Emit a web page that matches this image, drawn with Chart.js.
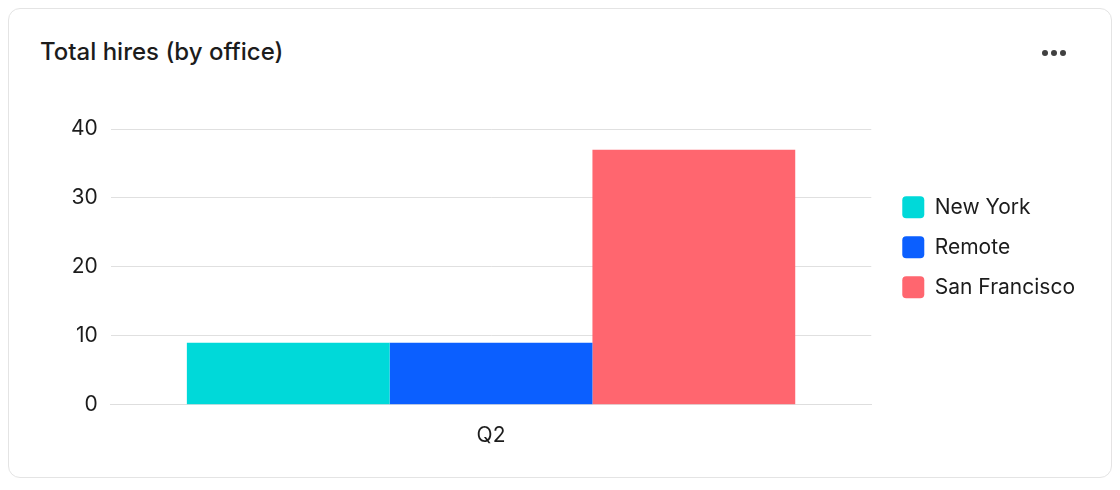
<!DOCTYPE html>
<html>
<head>
<meta charset="utf-8">
<script src="https://cdn.jsdelivr.net/npm/chart.js@4/dist/chart.umd.min.js"></script>
<style>
    html, body {
        margin: 0;
        padding: 0;
        background: #ffffff;
        font-family: Inter, 'Noto Sans', sans-serif;
    }
    .card {
        position: absolute;
        left: 8px;
        top: 8px;
        width: 1102px;
        height: 468px;
        border: 1px solid #e4e4e4;
        border-radius: 12px;
        background: #ffffff;
    }
    .title {
        position: absolute;
        left: 40px;
        top: 38px;
        font-size: 24px;
        font-weight: 500;
        color: #1c1c1c;
        line-height: 28px;
    }
    .menu {
        position: absolute;
        left: 1042px;
        top: 50px;
        display: flex;
        gap: 3px;
    }
    .menu span {
        width: 6px;
        height: 6px;
        border-radius: 50%;
        background: #404040;
    }
    .chart-box {
        position: absolute;
        left: 20px;
        top: 100px;
        width: 1080px;
        height: 370px;
    }
</style>
</head>
<body>
<div class="card"></div>
<div class="title">Total hires (by office)</div>
<div class="menu"><span></span><span></span><span></span></div>
<div class="chart-box"><canvas id="hiresChart"></canvas></div>

<script>
// chart data
const quarters = ['Q2'];
const offices = ['New York', 'Remote', 'San Francisco'];
const newYorkHires = [9];
const remoteHires = [9];
const sanFranciscoHires = [37];
const yTicks = [0, 10, 20, 30, 40];

const officeColors = {
    'New York': '#00d9d9',
    'Remote': '#0b5fff',
    'San Francisco': '#ff666f'
};

const seriesValues = [newYorkHires, remoteHires, sanFranciscoHires];

const datasets = offices.map((name, i) => ({
    label: name,
    data: seriesValues[i],
    backgroundColor: officeColors[name],
    borderWidth: 0,
    categoryPercentage: 0.8,
    barPercentage: 1.0
}));

const tickFont = { family: 'Inter', size: 21 };

const ctx = document.getElementById('hiresChart');
new Chart(ctx, {
    type: 'bar',
    data: {
        labels: quarters,
        datasets: datasets
    },
    options: {
        responsive: true,
        maintainAspectRatio: false,
        animation: false,
        layout: {
            padding: { left: 38, right: 15, top: 29, bottom: 12 }
        },
        plugins: {
            tooltip: { enabled: false },
            legend: {
                position: 'right',
                align: 'start',
                fullSize: false,
                maxWidth: 240,
                // blank title only pushes the items down to where they sit in the card
                title: {
                    display: true,
                    text: ' ',
                    font: { size: 11 },
                    padding: 18
                },
                labels: {
                    color: '#1c1c1c',
                    font: tickFont,
                    boxWidth: 22,
                    boxHeight: 22,
                    useBorderRadius: true,
                    borderRadius: 4,
                    padding: 18
                }
            }
        },
        scales: {
            x: {
                grid: { display: false },
                border: { display: true, color: '#dedede', width: 1 },
                ticks: {
                    color: '#1c1c1c',
                    font: tickFont,
                    padding: 10
                }
            },
            y: {
                min: yTicks[0],
                max: yTicks[yTicks.length - 1],
                afterBuildTicks: (scale) => {
                    scale.ticks = yTicks.map(v => ({ value: v }));
                },
                grid: {
                    color: '#e0e0e0',
                    drawTicks: false
                },
                border: { display: false },
                ticks: {
                    color: '#1c1c1c',
                    font: tickFont,
                    padding: 13
                }
            },
            // empty spacer between plot and legend
            gap: {
                type: 'linear',
                position: 'right',
                display: true,
                grid: { display: false },
                border: { display: false },
                ticks: { display: false },
                afterFit: (scale) => {
                    scale.width = 13;
                }
            }
        }
    }
});
</script>
</body>
</html>
